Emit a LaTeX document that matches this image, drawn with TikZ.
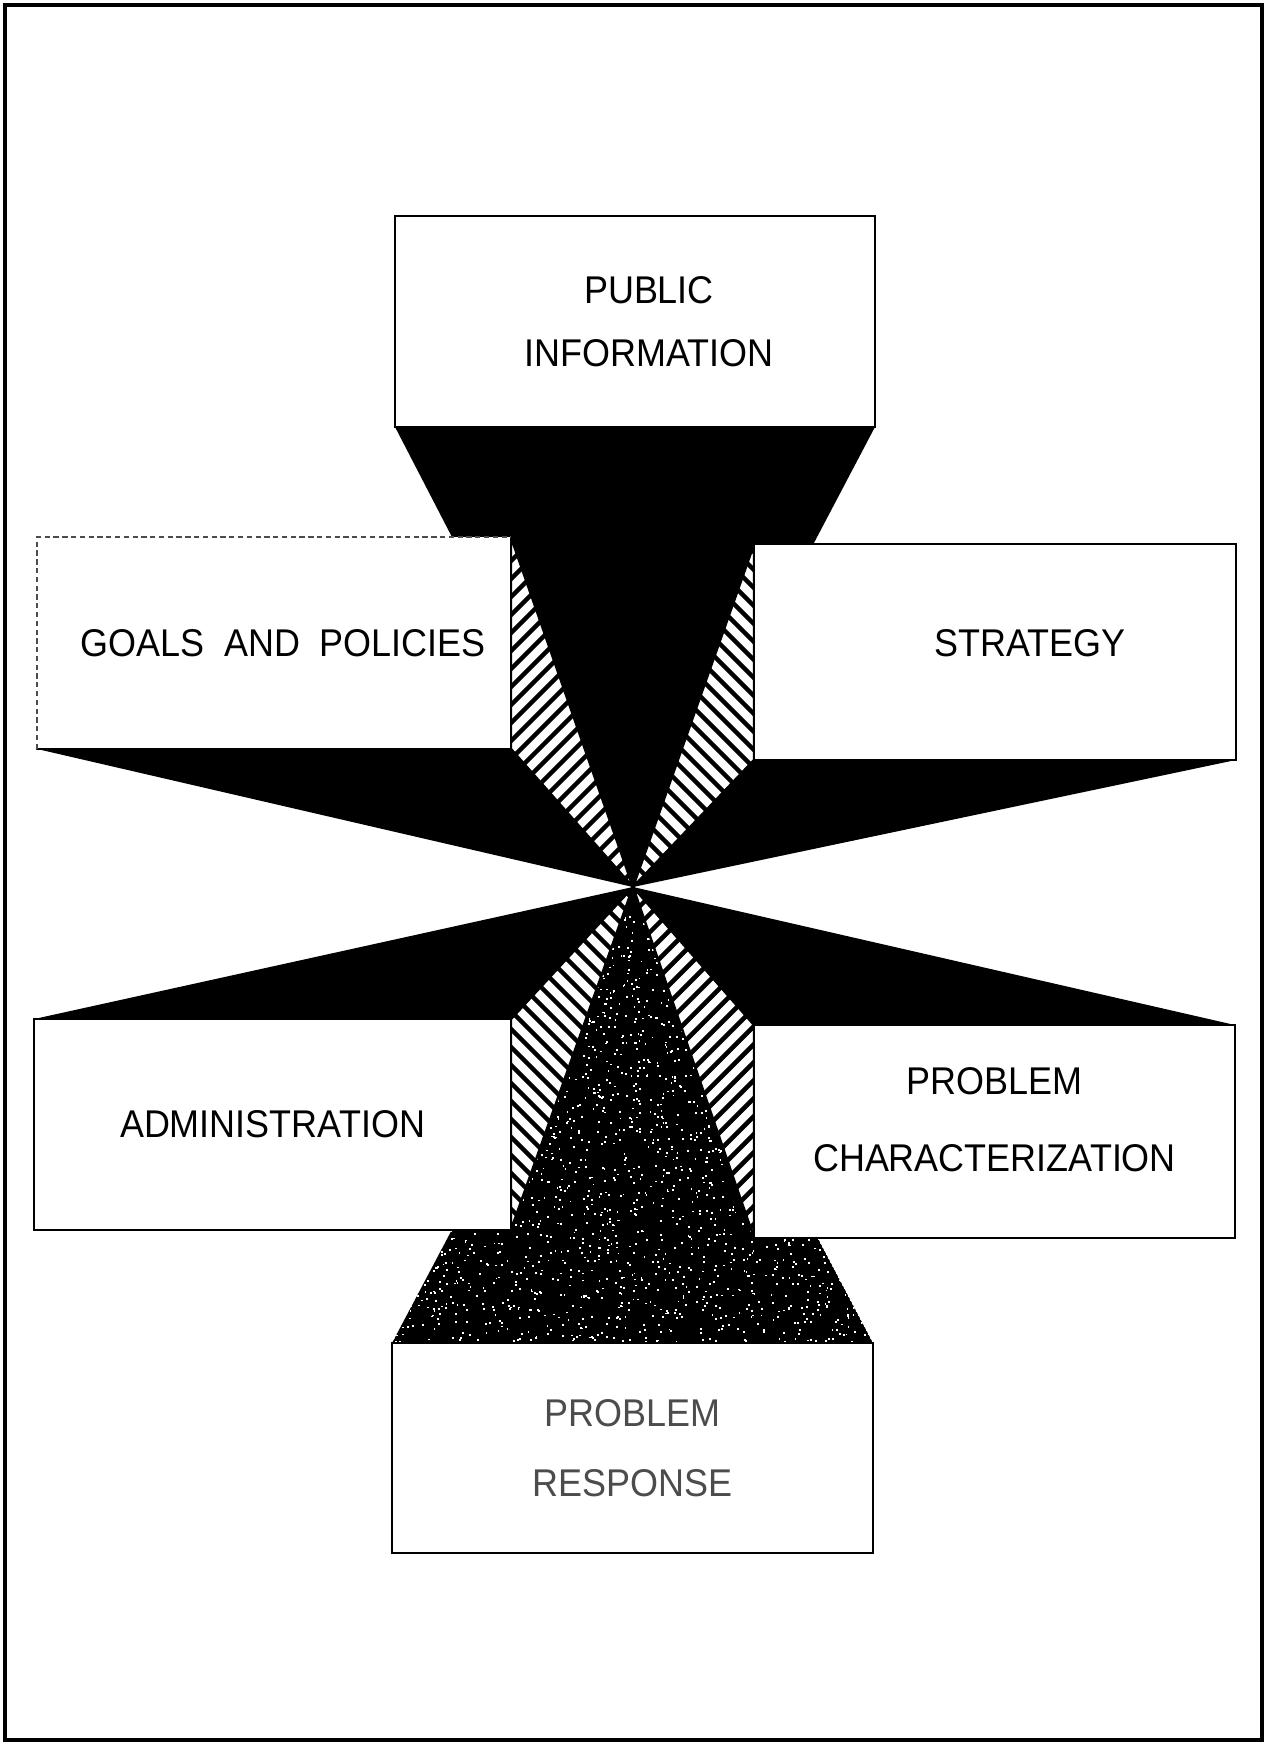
\documentclass[tikz,border=0pt]{standalone}
\usepackage{fontspec}
\setmainfont[FakeStretch=0.93]{Liberation Sans}
\usetikzlibrary{backgrounds}

\tikzset{
  panel/.style={draw, line width=1.6pt, fill=white, inner sep=0pt, outer sep=0pt,
    align=center, font=\fontsize{22}{36}\selectfont},
  solidedge/.style={line width=1.6pt, line cap=round},
  faintedge/.style={line width=0.8pt, densely dashed, black!70},
  hatchline/.style={line width=2.6pt},
  hatchedge/.style={line width=1.4pt, line join=round}
}

\begin{document}
\begin{tikzpicture}[x=0.02cm, y=-0.02cm]
  \useasboundingbox (0,0) rectangle (1267,1744);
  \draw[line width=1.8pt] (5,5) rectangle (1262,1740);

  % vanishing point
  \coordinate (c) at (633,887);

  % Boxes
  \node[panel, minimum width=9.6cm, minimum height=4.22cm] (pub) at (635,321.5)
    {\hspace*{0.56cm}PUBLIC\\\hspace*{0.56cm}INFORMATION};
  \node[panel, draw=none, minimum width=9.48cm, minimum height=4.24cm] (goals) at (274,643)
    {\hspace*{0.36cm}GOALS\hspace{0.2cm} AND\hspace{0.2cm} POLICIES};
  \draw[solidedge] (goals.north east) -- (goals.south east) -- (goals.south west);
  \draw[faintedge] (goals.south west) -- (goals.north west) -- (goals.north east);
  \node[panel, minimum width=9.64cm, minimum height=4.32cm] (strat) at (995,652)
    {\hspace*{1.4cm}STRATEGY\\[-26pt]\mbox{}};
  \node[panel, minimum width=9.54cm, minimum height=4.22cm] (admin) at (272.5,1124.5)
    {ADMINISTRATION};
  \node[panel, minimum width=9.62cm, minimum height=4.26cm] (char) at (994.5,1131.5)
    {PROBLEM\\[8pt]CHARACTERIZATION\\[-22pt]\mbox{}};
  \node[panel, text=black!70, minimum width=9.62cm, minimum height=4.2cm] (resp) at (632.5,1448)
    {PROBLEM\\[4pt]RESPONSE};

  \begin{scope}[on background layer]
    % Black faces
    \fill (pub.south west) -- (pub.south east) -- (c) -- cycle;
    \fill (goals.south west) -- (goals.south east) -- (c) -- cycle;
    \fill (strat.south west) -- (strat.south east) -- (c) -- cycle;
    \fill (admin.north west) -- (admin.north east) -- (c) -- cycle;
    \fill (char.north west) -- (char.north east) -- (c) -- cycle;

    % Stippled face
    \begin{scope}
      \clip (resp.north west) -- (resp.north east) -- (c) -- cycle;
      \fill (resp.north west) -- (resp.north east) -- (c) -- cycle;
      \pgfmathsetseed{11}
      \foreach \i in {1,...,2800}
        \fill[white] ({392+481*rnd},{900+443*rnd}) rectangle ++(1.8,1.8);
    \end{scope}

    % Hatched faces
    \begin{scope}
      \clip (goals.north east) -- (goals.south east) -- (c) -- cycle;
      \fill[white] (goals.north east) -- (goals.south east) -- (c) -- cycle;
      \foreach \s in {1036,1054,...,1540}
        \draw[hatchline] (\s-200,200) -- (\s-1600,1600);
    \end{scope}
    \draw[hatchedge] (goals.north east) -- (goals.south east) -- (c) -- cycle;

    \begin{scope}
      \clip (strat.north west) -- (strat.south west) -- (c) -- cycle;
      \fill[white] (strat.north west) -- (strat.south west) -- (c) -- cycle;
      \foreach \s in {-266,-248,...,230}
        \draw[hatchline] (\s+200,200) -- (\s+1600,1600);
    \end{scope}
    \draw[hatchedge] (strat.north west) -- (strat.south west) -- (c) -- cycle;

    \begin{scope}
      \clip (admin.north east) -- (admin.south east) -- (c) -- cycle;
      \fill[white] (admin.north east) -- (admin.south east) -- (c) -- cycle;
      \foreach \s in {-734,-716,...,-240}
        \draw[hatchline] (\s+200,200) -- (\s+1600,1600);
    \end{scope}
    \draw[hatchedge] (admin.north east) -- (admin.south east) -- (c) -- cycle;

    \begin{scope}
      \clip (char.north west) -- (char.south west) -- (c) -- cycle;
      \fill[white] (char.north west) -- (char.south west) -- (c) -- cycle;
      \foreach \s in {1510,1528,...,2010}
        \draw[hatchline] (\s-200,200) -- (\s-1600,1600);
    \end{scope}
    \draw[hatchedge] (char.north west) -- (char.south west) -- (c) -- cycle;
  \end{scope}
\end{tikzpicture}
\end{document}
